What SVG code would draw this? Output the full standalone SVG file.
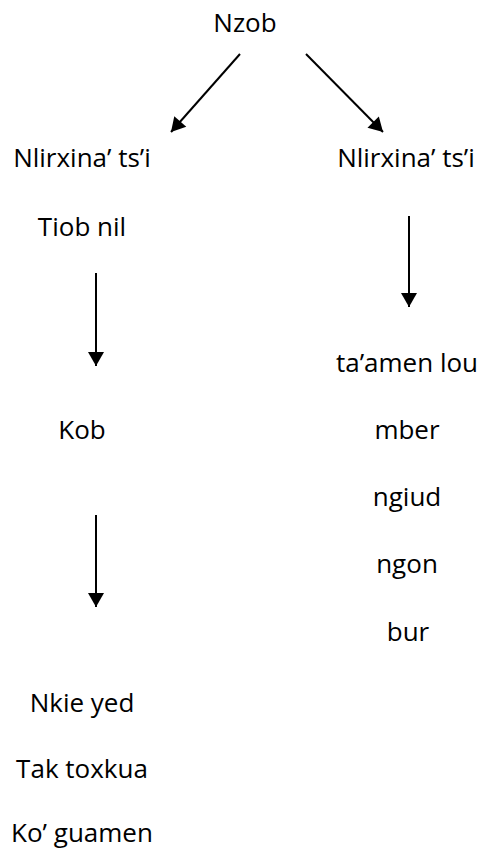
<svg xmlns="http://www.w3.org/2000/svg" width="484" height="851" viewBox="0 0 484 851">
  <style>
    text { font-family: "Open Sans", "Liberation Sans", sans-serif; font-size: 26px; fill: #000; text-anchor: middle; }
    .conn line { stroke: #000; stroke-width: 2; marker-end: url(#arrow); }
  </style>
  <defs>
    <marker id="arrow" markerUnits="userSpaceOnUse" markerWidth="16" markerHeight="16" viewBox="0 0 14 16" refX="14" refY="8" orient="auto">
      <path d="M0,0 L14,8 L0,16 Z" fill="#000"/>
    </marker>
  </defs>
  <rect width="484" height="851" fill="#fff"/>
  <g id="n-nzob"><text x="245" y="32">Nzob</text></g>
  <g id="n-left-head"><text x="82" y="167">Nlirxina’ ts’i</text></g>
  <g id="n-tiob"><text x="82" y="236">Tiob nil</text></g>
  <g id="n-kob"><text x="82" y="439">Kob</text></g>
  <g id="n-left-list">
    <text x="82" y="712">Nkie yed</text>
    <text x="82" y="778">Tak toxkua</text>
    <text x="82" y="842">Ko’ guamen</text>
  </g>
  <g id="n-right-head"><text x="406" y="167">Nlirxina’ ts’i</text></g>
  <g id="n-right-list">
    <text x="407" y="372">ta’amen lou</text>
    <text x="407" y="439">mber</text>
    <text x="407" y="506">ngiud</text>
    <text x="407" y="573">ngon</text>
    <text x="408" y="641">bur</text>
  </g>
  <g id="connectors" class="conn">
    <line x1="240" y1="54" x2="171" y2="132"/>
    <line x1="306" y1="54" x2="383" y2="132"/>
    <line x1="96" y1="273" x2="96" y2="366"/>
    <line x1="96" y1="515" x2="96" y2="607"/>
    <line x1="409" y1="216" x2="409" y2="307"/>
  </g>
</svg>
